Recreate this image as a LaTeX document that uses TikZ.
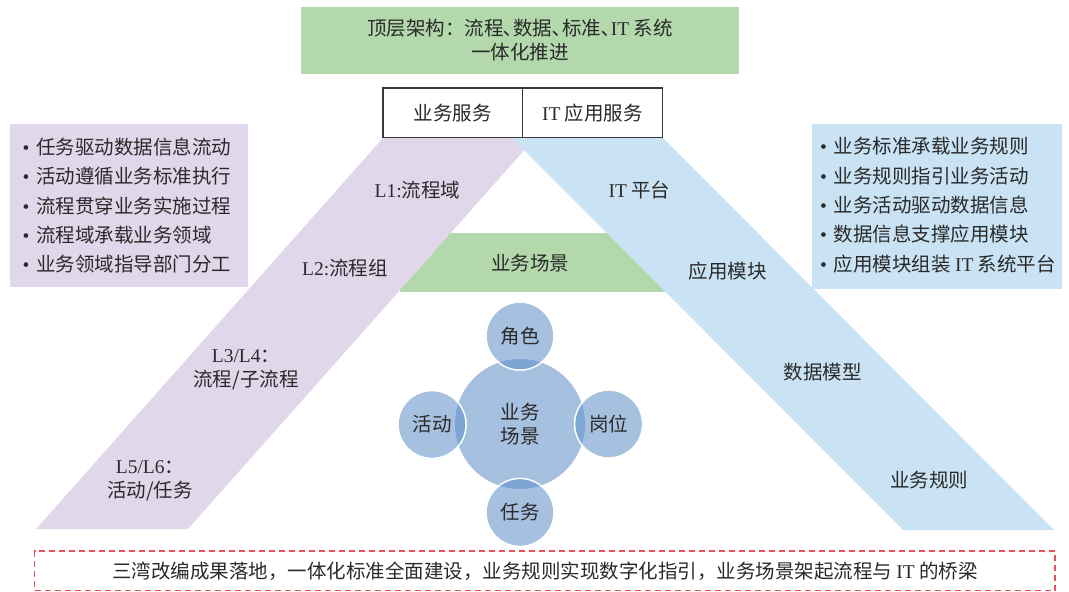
\documentclass[tikz,border=0pt]{standalone}
\usepackage{fontspec}
\setmainfont{Noto Sans CJK SC}
\newfontfamily\lat{Liberation Serif}
\definecolor{ink}{HTML}{2A2A2A}
\definecolor{topgreen}{HTML}{B2D8AB}
\definecolor{purp}{HTML}{E1D7EA}
\definecolor{skyb}{HTML}{C9E3F4}
\definecolor{circ}{HTML}{A6C0E0}
\definecolor{circdark}{HTML}{7DA6D4}
\definecolor{boxline}{HTML}{3A3A3A}
\definecolor{dashred}{HTML}{E9505A}
\newcommand{\bul}{\makebox[13.5pt][l]{\lat •}}
\begin{document}
\begin{tikzpicture}[x=1pt,y=-1pt,
  txt/.style={text=ink, font=\fontsize{19.5}{24}\selectfont, inner sep=0pt, align=center},
  listtxt/.style={text=ink, font=\fontsize{19.5}{29.3}\selectfont, inner sep=0pt, align=left, anchor=west},
  greenbox/.style={fill=topgreen, draw=none, inner sep=0pt, text=ink, font=\fontsize{19.5}{24}\selectfont, align=center},
  hbox/.style={fill=white, draw=boxline, line width=1.5pt, inner sep=0pt, text=ink, font=\fontsize{19.5}{24}\selectfont},
  smallc/.style={circle, fill=circ, draw=white, line width=1.3pt, minimum size=68pt, inner sep=0pt, text=ink, font=\fontsize{19.5}{24}\selectfont},
  dashbox/.style={draw=dashred, line width=1.5pt, dash pattern=on 6pt off 4pt, inner sep=0pt, text=ink, font=\fontsize{19.5}{24}\selectfont}]
\useasboundingbox (0,0) rectangle (1069,592);

% top box
\node[greenbox, minimum width=438pt, minimum height=66.4pt] (top) at (520,40.5)
  {顶层架构：流程､数据､标准､{\lat IT} 系统\\一体化推进};

% info boxes
\fill[purp] (10,124.3) rectangle (248,286.7);
\fill[skyb] (811.5,124.3) rectangle (1062,288.7);
\node[listtxt] (leftlist) at (22.5,205.8)
  {\bul 任务驱动数据信息流动\\\bul 活动遵循业务标准执行\\\bul 流程贯穿业务实施过程\\\bul 流程域承载业务领域\\\bul 业务领域指导部门分工};
\node[listtxt] (rightlist) at (820,205.2)
  {\bul 业务标准承载业务规则\\\bul 业务规则指引业务活动\\\bul 业务活动驱动数据信息\\\bul 数据信息支撑应用模块\\\bul 应用模块组装 {\lat IT} 系统平台};

% scene band, purple and blue slants
\fill[topgreen] (400,233.3) rectangle (680,291.7);
\fill[purp] (383,138) -- (535,138) -- (188,529) -- (36,529) -- cycle;
\fill[skyb] (512,138) -- (663,138) -- (1054,530) -- (903,530) -- cycle;

% header boxes
\node[hbox, minimum width=139.7pt, minimum height=49.5pt] (bizsvc) at (452.85,112.75) {业务服务};
\node[hbox, minimum width=139.8pt, minimum height=49.5pt] (itsvc) at (592.6,112.75) {{\lat IT} 应用服务};

% slant labels
\node[txt] (l1) at (417.5,190) {{\lat L1:}流程域};
\node[txt] (l2) at (345,268) {{\lat L2:}流程组};
\node[txt] (l34) at (246,370) {{\lat L3/L4}：\\流程/子流程};
\node[txt] (l56) at (150,480.5) {{\lat L5/L6}：\\活动/任务};
\node[txt] (itp) at (639.5,190) {{\lat IT} 平台};
\node[txt] (appm) at (727.6,271) {应用模块};
\node[txt] (datam) at (822.5,371.7) {数据模型};
\node[txt] (rules) at (929,480) {业务规则};
\node[txt] (scene) at (530,263) {业务场景};

% circles
\node[circle, fill=circ, minimum size=130pt, inner sep=0pt, text=ink, font=\fontsize{19.5}{24}\selectfont, align=center] (core) at (520,424) {业务\\场景};
\node[smallc] (role) at (520,336) {角色};
\node[smallc] (act) at (432,424.5) {活动};
\node[smallc] (post) at (608.7,424) {岗位};
\node[smallc] (task) at (520,512.5) {任务};
\begin{scope}
  \clip (core.center) circle (65);
  \fill[circdark] (role.center) circle (34) (act.center) circle (34) (post.center) circle (34) (task.center) circle (34);
\end{scope}
\draw[white, line width=1.3pt] (role.center) circle (34) (act.center) circle (34) (post.center) circle (34) (task.center) circle (34);

% bottom note
\node[dashbox, minimum width=1020.3pt, minimum height=39.5pt] (note) at (544.85,570.75)
  {三湾改编成果落地，一体化标准全面建设，业务规则实现数字化指引，业务场景架起流程与 {\lat IT} 的桥梁};
\end{tikzpicture}
\end{document}
